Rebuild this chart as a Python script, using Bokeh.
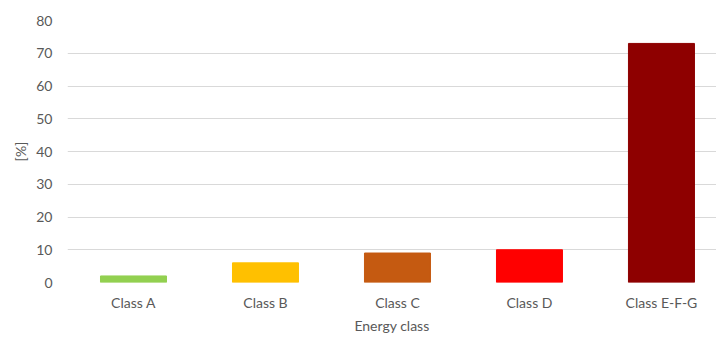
from bokeh.plotting import figure
from bokeh.models import FixedTicker, Range1d, ColumnDataSource
from bokeh.embed import file_html
from bokeh.resources import INLINE

categories = ["Class A", "Class B", "Class C", "Class D", "Class E-F-G"]
values = [2, 6, 9, 10, 73]
colors = ["#92D050", "#FFC000", "#C55A11", "#FF0000", "#8E0000"]
y_ticks = [0, 10, 20, 30, 40, 50, 60, 70, 80]

xs = [i + 0.5 for i in range(len(categories))]
src = ColumnDataSource(dict(x=xs, top=values, color=colors))

p = figure(width=716, height=340, output_backend="svg", toolbar_location=None,
           x_range=Range1d(0, 4.917), y_range=Range1d(0, 80),
           min_border_left=67, min_border_right=0, min_border_top=20, min_border_bottom=58)
p.outline_line_color = None
p.background_fill_color = "white"
p.border_fill_color = "white"

p.vbar(x="x", top="top", width=0.5, bottom=0, color="color", source=src)

grey = "#595959"
font = "Lato"

p.xaxis.ticker = FixedTicker(ticks=xs)
p.xaxis.major_label_overrides = {x: c for x, c in zip(xs, categories)}
p.yaxis.ticker = FixedTicker(ticks=y_ticks)

for ax in (p.xaxis[0], p.yaxis[0]):
    ax.axis_line_color = None
    ax.major_tick_line_color = None
    ax.minor_tick_line_color = None
    ax.major_label_text_color = grey
    ax.major_label_text_font = font
    ax.major_label_text_font_size = "14px"
    ax.axis_label_text_color = grey
    ax.axis_label_text_font = font
    ax.axis_label_text_font_size = "14px"
    ax.axis_label_text_font_style = "normal"

p.xaxis.axis_label = "Energy class"
p.yaxis.axis_label = "[%]"
p.xaxis.major_label_standoff = 5
p.xaxis.axis_label_standoff = 3
p.yaxis.major_label_standoff = 9
p.yaxis.axis_label_standoff = 4

p.xgrid.grid_line_color = None
p.ygrid.grid_line_color = "#D9D9D9"
p.ygrid.ticker = FixedTicker(ticks=y_ticks)

open("out.html", "w").write(file_html(p, INLINE))
